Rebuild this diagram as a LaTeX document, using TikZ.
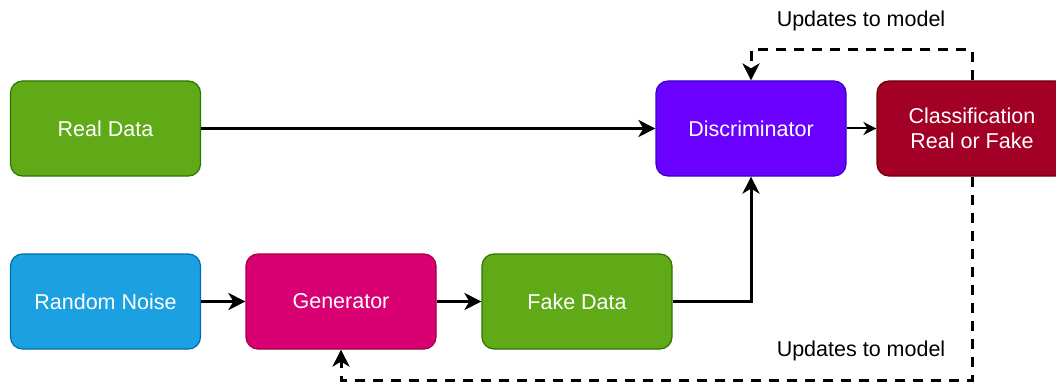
\documentclass[tikz,border=0pt]{standalone}
\usepackage{fontspec}
\setmainfont{Liberation Sans}
\usetikzlibrary{arrows.meta}
\definecolor{gfill}{HTML}{60A917}\definecolor{gdraw}{HTML}{2D7600}
\definecolor{bfill}{HTML}{1BA1E2}\definecolor{bdraw}{HTML}{006EAF}
\definecolor{pfill}{HTML}{D80073}\definecolor{pdraw}{HTML}{A50040}
\definecolor{vfill}{HTML}{6A00FF}\definecolor{vdraw}{HTML}{3700CC}
\definecolor{rfill}{HTML}{A20025}\definecolor{rdraw}{HTML}{6F0000}
\begin{document}
\begin{tikzpicture}[x=1pt,y=-1pt,
  box/.style={draw, line width=1.2pt, rounded corners=12pt, minimum width=190pt,
    minimum height=95pt, text=white, font=\fontsize{21.5}{25}\selectfont,
    align=center, inner sep=0pt},
  arr/.style={line width=3pt, -{Stealth[length=17pt,width=17pt,inset=5pt]}},
  thinarr/.style={line width=2pt, -{Stealth[length=13pt,width=13pt,inset=4pt]}},
  dasharr/.style={line width=3pt, dash pattern=on 10pt off 8pt,
    -{Stealth[length=17pt,width=17pt,inset=5pt]}},
  lbl/.style={font=\fontsize{21.5}{25}\selectfont, anchor=base, inner sep=0pt}]
\clip (0,0) rectangle (1056,382);
\fill[white] (0,0) rectangle (1056,382);
\node[box, fill=gfill, draw=gdraw] (real) at (105.5,128.5) {Real Data};
\node[box, fill=bfill, draw=bdraw] (noise) at (105.5,301.5) {Random Noise};
\node[box, fill=pfill, draw=pdraw] (gen) at (341,301.5) {Generator};
\node[box, fill=gfill, draw=gdraw] (fake) at (577,301.5) {Fake Data};
\node[box, fill=vfill, draw=vdraw] (disc) at (751,128.5) {Discriminator};
\node[box, fill=rfill, draw=rdraw] (cls) at (972,128.5) {Classification\\Real or Fake};
\coordinate (top) at (0,50);
\coordinate (bot) at (0,380);
\draw[arr] (real) -- (disc);
\draw[arr] (noise) -- (gen);
\draw[arr] (gen) -- (fake);
\draw[arr] (fake.east) -| (disc.south);
\draw[thinarr] (disc) -- (cls);
\draw[dasharr] (cls.north) -- (cls.north |- top) -| (disc.north);
\draw[dasharr] (cls.south) -- (cls.south |- bot) -| (gen.south);
\node[lbl] (ltop) at (861,26.5) {Updates to model};
\node[lbl] (lbot) at (861,356.5) {Updates to model};
\end{tikzpicture}
\end{document}
